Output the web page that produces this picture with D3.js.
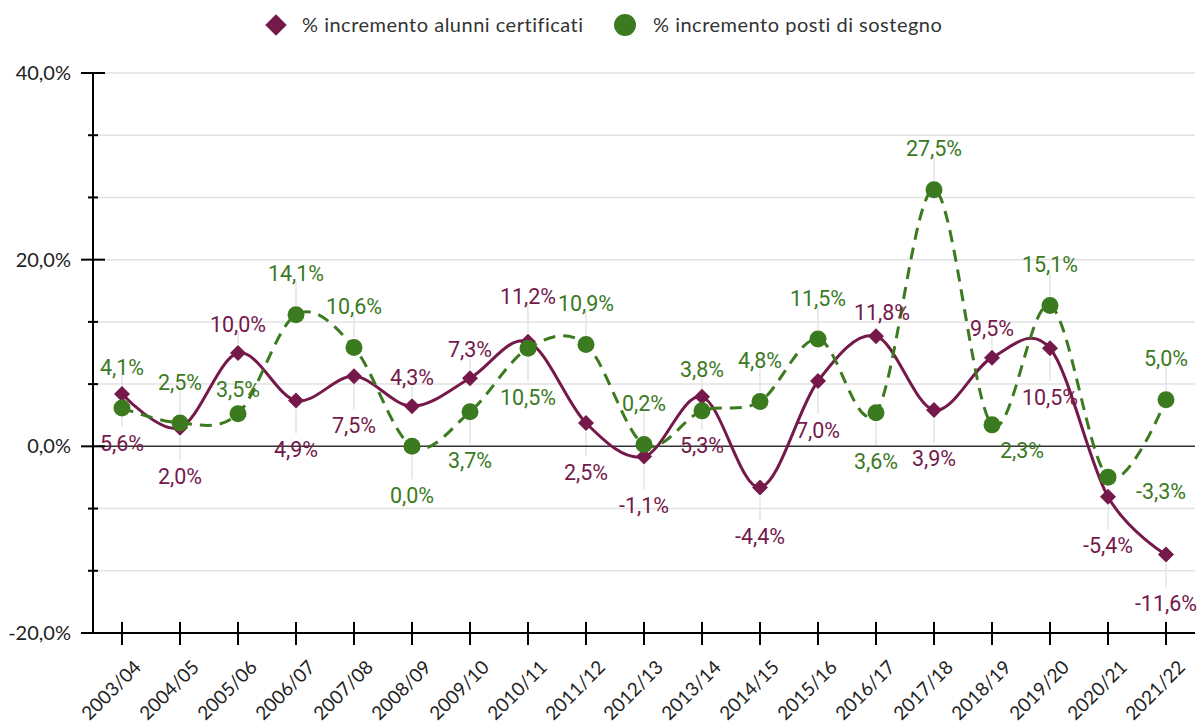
<!DOCTYPE html>
<html>
<head>
<meta charset="utf-8">
<script src="https://cdn.jsdelivr.net/npm/d3@7"></script>
<style>
  html, body { margin: 0; padding: 0; background: #fff; }
  svg { display: block; }
</style>
</head>
<body>
<svg id="chart" width="1198" height="723"></svg>
<script>
// ---- DATA ----
const categories = ["2003/04","2004/05","2005/06","2006/07","2007/08","2008/09","2009/10","2010/11","2011/12","2012/13","2013/14","2014/15","2015/16","2016/17","2017/18","2018/19","2019/20","2020/21","2021/22"];
const alunniValues = [5.6, 2.0, 10.0, 4.9, 7.5, 4.3, 7.3, 11.2, 2.5, -1.1, 5.3, -4.4, 7.0, 11.8, 3.9, 9.5, 10.5, -5.4, -11.6];
const postiValues  = [4.1, 2.5, 3.5, 14.1, 10.6, 0.0, 3.7, 10.5, 10.9, 0.2, 3.8, 4.8, 11.5, 3.6, 27.5, 2.3, 15.1, -3.3, 5.0];
// label placement: a = above, as = above (close), ah = above (high), b = below, r = right, br = below right
const alunniLabelPos = ["b","b","a","b","b","a","a","ah","b","b","b","b","b","as","b","a","b","b","b"];
const postiLabelPos  = ["a","a","as","a","a","b","b","b","a","a","a","a","a","b","a","br","a","r","a"];
const yTickValues = [-20, -40/3, -20/3, 0, 20/3, 40/3, 20, 80/3, 100/3, 40];
const yLabeledTicks = [-20, 0, 20, 40];
const seriesNames = ["% incremento alunni certificati", "% incremento posti di sostegno"];

// ---- STYLE ----
const purple = "#74194A";
const green = "#3B7A1E";
const m = { left: 93, right: 1195, top: 73, bottom: 633 };

const svg = d3.select("#chart");
const x = d3.scalePoint().domain(categories).range([m.left, m.right]).padding(0.5);
const y = d3.scaleLinear().domain([-20, 40]).range([m.bottom, m.top]);

const fmt = v => v.toFixed(1).replace(".", ",") + "%";
const isLabeled = v => yLabeledTicks.some(t => Math.abs(t - v) < 1e-6);

// gridlines
svg.append("g").selectAll("line").data(yTickValues.filter(v => v > -20 && Math.abs(v) > 1e-6))
  .join("line")
  .attr("x1", m.left).attr("x2", m.right)
  .attr("y1", d => y(d)).attr("y2", d => y(d))
  .attr("stroke", "#e2e2e2").attr("stroke-width", 1.5);

// label positions
function labelXY(i, v, pos, kind) {
  const px = x(categories[i]), py = y(v);
  if (pos === "a") return [px, py - (kind === "p" ? 29 : 41)];
  if (pos === "as") return [px + (kind === "p" ? 6 : 0), py - 24];
  if (pos === "ah") return [px, py - 45];
  if (pos === "b") return [px, py + 49];
  if (pos === "r") return [px + 53, py + 14];
  if (pos === "br") return [px + 30, py + 26];
  return [px, py];
}

// leader lines
const leaders = [];
alunniValues.forEach((v, i) => leaders.push({ i, v, pos: alunniLabelPos[i], kind: "p" }));
postiValues.forEach((v, i) => leaders.push({ i, v, pos: postiLabelPos[i], kind: "g" }));
svg.append("g").selectAll("line").data(leaders.filter(d => d.pos === "a" || d.pos === "ah" || d.pos === "b"))
  .join("line")
  .attr("x1", d => x(categories[d.i])).attr("x2", d => x(categories[d.i]))
  .attr("y1", d => y(d.v) + (d.pos === "b" ? 9 : -9))
  .attr("y2", d => { const [lx, ly] = labelXY(d.i, d.v, d.pos, d.kind); return d.pos === "b" ? ly - 16 : ly + 8; })
  .attr("stroke", "#e4e4e4").attr("stroke-width", 1.5);

// zero line
svg.append("line")
  .attr("x1", m.left).attr("x2", m.right)
  .attr("y1", y(0)).attr("y2", y(0))
  .attr("stroke", "#333").attr("stroke-width", 1.5);

// lines
const line = d3.line().x((d, i) => x(categories[i])).y(d => y(d)).curve(d3.curveCardinal.tension(0));
svg.append("path").datum(alunniValues).attr("d", line)
  .attr("fill", "none").attr("stroke", purple).attr("stroke-width", 3);
svg.append("g").selectAll("path").data(alunniValues).join("path")
  .attr("d", d3.symbol(d3.symbolSquare, 128)())
  .attr("transform", (d, i) => `translate(${x(categories[i])},${y(d)}) rotate(45)`)
  .attr("fill", purple);

svg.append("path").datum(postiValues).attr("d", line)
  .attr("fill", "none").attr("stroke", green).attr("stroke-width", 3)
  .attr("stroke-dasharray", "12,8");
svg.append("g").selectAll("circle").data(postiValues).join("circle")
  .attr("cx", (d, i) => x(categories[i])).attr("cy", d => y(d)).attr("r", 8.5)
  .attr("fill", green);

// data labels
function drawLabels(values, posArr, kind, color) {
  svg.append("g").selectAll("text").data(values).join("text")
    .attr("x", (d, i) => labelXY(i, d, posArr[i], kind)[0])
    .attr("y", (d, i) => labelXY(i, d, posArr[i], kind)[1])
    .attr("dy", "0.35em")
    .attr("text-anchor", "middle")
    .attr("font-family", "Roboto, sans-serif").attr("font-size", 21.5)
    .attr("fill", color)
    .text(d => fmt(d));
}
drawLabels(alunniValues, alunniLabelPos, "p", purple);
drawLabels(postiValues, postiLabelPos, "g", green);

// y axis
const yAxis = svg.append("g");
yAxis.append("line").attr("x1", m.left).attr("x2", m.left).attr("y1", m.top).attr("y2", m.bottom)
  .attr("stroke", "#000").attr("stroke-width", 2);
yAxis.selectAll("line.tick").data(yTickValues).join("line").attr("class", "tick")
  .attr("x1", d => m.left - (isLabeled(d) ? 12 : 5)).attr("x2", d => m.left + (isLabeled(d) ? 12 : 5))
  .attr("y1", d => y(d)).attr("y2", d => y(d))
  .attr("stroke", "#000").attr("stroke-width", 2);
yAxis.selectAll("text").data(yLabeledTicks).join("text")
  .attr("x", m.left - 22).attr("y", d => y(d)).attr("dy", "0.35em")
  .attr("text-anchor", "end")
  .attr("font-family", "Lato, sans-serif").attr("font-size", 20).attr("fill", "#222")
  .text(d => d.toFixed(1).replace(".", ",") + "%");

// x axis
const xAxis = svg.append("g");
xAxis.append("line").attr("x1", m.left - 5).attr("x2", m.right).attr("y1", m.bottom).attr("y2", m.bottom)
  .attr("stroke", "#000").attr("stroke-width", 2);
xAxis.selectAll("line.tick").data(categories).join("line").attr("class", "tick")
  .attr("x1", d => x(d)).attr("x2", d => x(d))
  .attr("y1", m.bottom - 11).attr("y2", m.bottom + 12)
  .attr("stroke", "#000").attr("stroke-width", 2);
xAxis.selectAll("text").data(categories).join("text")
  .attr("transform", d => `translate(${x(d) + 11},${m.bottom + 26}) rotate(-45)`)
  .attr("text-anchor", "end").attr("dy", "0.7em")
  .attr("font-family", "Lato, sans-serif").attr("font-size", 19).attr("fill", "#222")
  .text(d => d);

// legend
const legend = svg.append("g");
legend.append("path").attr("d", d3.symbol(d3.symbolSquare, 230)())
  .attr("transform", "translate(276,25) rotate(45)").attr("fill", purple);
legend.append("text").attr("x", 302).attr("y", 25).attr("dy", "0.35em")
  .attr("font-family", "Lato, sans-serif").attr("font-size", 20).attr("letter-spacing", 0.5).attr("fill", "#333")
  .text(seriesNames[0]);
legend.append("circle").attr("cx", 625).attr("cy", 25).attr("r", 11).attr("fill", green);
legend.append("text").attr("x", 653).attr("y", 25).attr("dy", "0.35em")
  .attr("font-family", "Lato, sans-serif").attr("font-size", 20).attr("letter-spacing", 0.5).attr("fill", "#333")
  .text(seriesNames[1]);
</script>
</body>
</html>
